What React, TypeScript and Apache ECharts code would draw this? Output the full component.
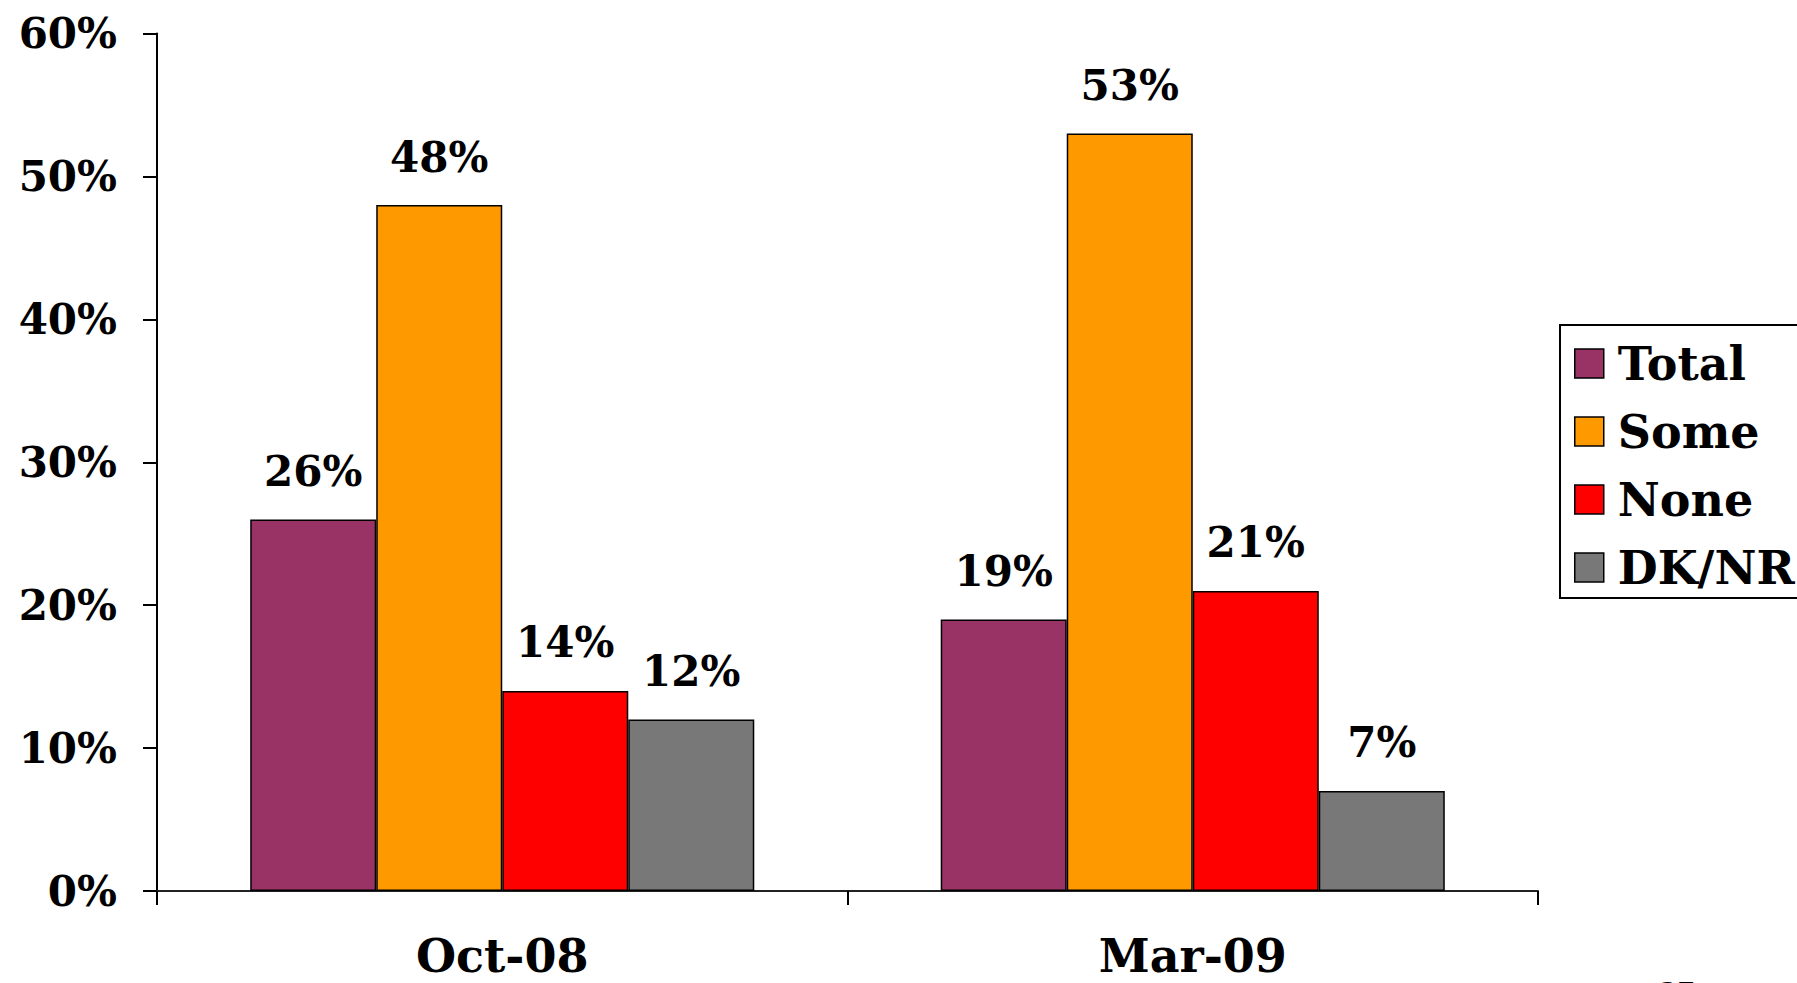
import React, { useEffect, useRef } from "react";
import * as echarts from "echarts";

const categories = ["Oct-08", "Mar-09"];
const seriesNames = ["Total", "Some", "None", "DK/NR"];
const totalValues = [26, 19];
const someValues = [48, 53];
const noneValues = [14, 21];
const dkValues = [12, 7];
const seriesColors = ["#993366", "#FF9900", "#FF0000", "#787878"];
const yTicks = [0, 10, 20, 30, 40, 50, 60];

const FONT = "'DejaVu Serif', Georgia, serif";

export default function App() {
  const ref = useRef<HTMLDivElement>(null);
  useEffect(() => {
    document.body.style.margin = "0";
    if (!ref.current) return;
    const chart = echarts.init(ref.current, undefined, { renderer: "svg" });
    const values = [totalValues, someValues, noneValues, dkValues];
    chart.setOption({
      animation: false,
      backgroundColor: "#ffffff",
      textStyle: { fontFamily: FONT },
      grid: { left: 157, right: 259, top: 33.5, bottom: 92, containLabel: false },
      xAxis: {
        type: "category",
        data: categories,
        boundaryGap: true,
        axisLine: { show: true, lineStyle: { color: "#222", width: 2 } },
        axisTick: { show: true, length: 14, alignWithLabel: false, lineStyle: { color: "#000", width: 2 } },
        axisLabel: { fontFamily: FONT, fontWeight: "bold", fontSize: 46, color: "#000", margin: 42 },
        splitLine: { show: false },
      },
      yAxis: {
        type: "value",
        min: yTicks[0],
        max: yTicks[yTicks.length - 1],
        interval: 10,
        axisLine: { show: true, lineStyle: { color: "#000", width: 2 } },
        axisTick: { show: true, length: 14, lineStyle: { color: "#000", width: 2 } },
        axisLabel: {
          fontFamily: FONT,
          fontWeight: "bold",
          fontSize: 42,
          color: "#000",
          margin: 40,
          formatter: (v: number) => `${v}%`,
        },
        splitLine: { show: false },
      },
      legend: {
        orient: "vertical",
        left: 1574,
        top: 340.5,
        padding: 0,
        itemWidth: 29,
        itemHeight: 29,
        itemGap: 22,
        icon: "rect",
        data: seriesNames,
        itemStyle: { borderColor: "#000", borderWidth: 1.5 },
        textStyle: {
          fontFamily: FONT,
          fontWeight: "bold",
          fontSize: 46,
          lineHeight: 46,
          color: "#000",
          padding: [0, 0, 0, 9],
        },
      },
      graphic: [
        {
          type: "rect",
          shape: { x: 1560, y: 325, width: 400, height: 273 },
          style: { fill: "none", stroke: "#000", lineWidth: 2 },
          silent: true,
        },
        {
          type: "text",
          x: 1660,
          y: 975,
          style: { text: "27", fontFamily: "'Liberation Serif', serif", fontSize: 34, fill: "#000" },
        },
      ],
      series: seriesNames.map((name, i) => ({
        name,
        type: "bar",
        data: values[i],
        barGap: "0%",
        barCategoryGap: "27%",
        itemStyle: { color: seriesColors[i], borderColor: "#000", borderWidth: 1.5 },
        label: {
          show: true,
          position: "top",
          distance: 27,
          fontFamily: FONT,
          fontWeight: "bold",
          fontSize: 42,
          color: "#000",
          formatter: (p: any) => `${p.value}%`,
        },
      })),
    });
    return () => chart.dispose();
  }, []);
  return <div ref={ref} style={{ width: 1797, height: 983 }} />;
}
